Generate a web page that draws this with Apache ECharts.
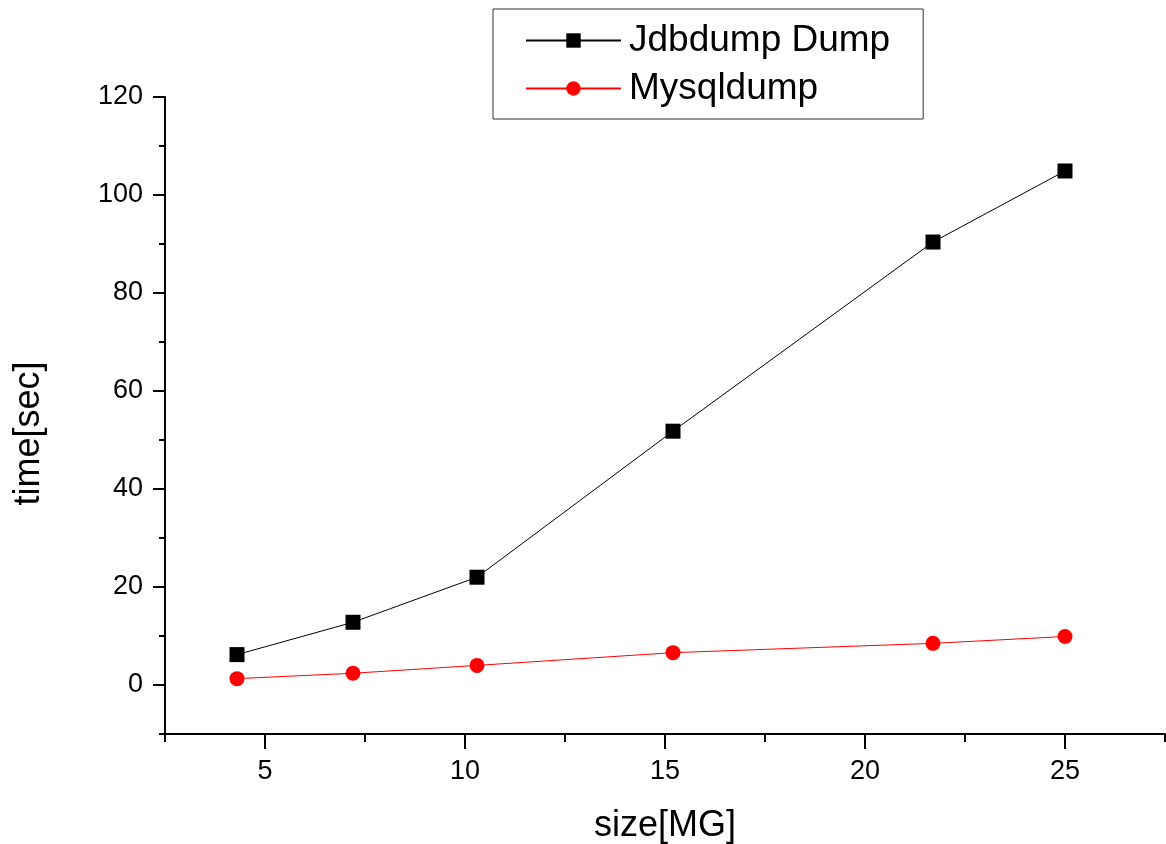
<!DOCTYPE html>
<html>
<head>
<meta charset="utf-8">
<script src="https://cdn.jsdelivr.net/npm/echarts@6/dist/echarts.min.js"></script>
<style>
  html, body { margin: 0; padding: 0; background: #fff; }
  #chart { width: 1166px; height: 844px; }
</style>
</head>
<body>
<div id="chart"></div>
<script>
var sizes = [4.3, 7.2, 10.3, 15.2, 21.7, 25.0];
var jdbdump = [6.2, 12.8, 22.0, 51.8, 90.4, 104.9];
var mysqldump = [1.3, 2.4, 4.0, 6.6, 8.5, 9.9];

var xMajor = [5, 10, 15, 20, 25];
var xMinor = [2.5, 7.5, 12.5, 17.5, 22.5, 27.5];
var yMajor = [0, 20, 40, 60, 80, 100, 120];
var yMinor = [-10, 10, 30, 50, 70, 90, 110];

function pairs(xs, ys) {
    return xs.map(function (x, i) { return [x, ys[i]]; });
}

var font = '"Liberation Sans", Arial, sans-serif';

var chart = echarts.init(document.getElementById('chart'));
var option = {
    backgroundColor: '#fff',
    animation: false,
    textStyle: { fontFamily: font, color: '#000' },
    grid: { left: 165, right: 1, top: 97, bottom: 110, containLabel: false, outerBoundsMode: 'none' },
    legend: {
        orient: 'vertical',
        left: 493,
        top: 9,
        padding: [13, 33, 12, 32],
        itemGap: 11,
        itemWidth: 95,
        itemHeight: 18,
        borderColor: '#333',
        borderWidth: 1,
        textStyle: { fontSize: 37, fontFamily: font, color: '#000', padding: [0, 0, 0, 3] },
        data: ['Jdbdump Dump', 'Mysqldump']
    },
    xAxis: [
        {
            type: 'value',
            position: 'bottom',
            min: 2.5,
            max: 27.5,
            interval: 2.5,
            name: 'size[MG]',
            nameLocation: 'middle',
            nameGap: 74,
            nameTextStyle: { fontSize: 36, fontFamily: font, color: '#000' },
            axisLine: { show: true, onZero: false, lineStyle: { color: '#000', width: 2 } },
            axisTick: { show: true, inside: false, length: 15, customValues: xMajor, lineStyle: { color: '#000', width: 2 } },
            axisLabel: { fontSize: 27, fontFamily: font, color: '#000', margin: 24, customValues: xMajor },
            splitLine: { show: false }
        },
        {
            type: 'value',
            position: 'bottom',
            min: 2.5,
            max: 27.5,
            interval: 2.5,
            axisLine: { show: false, onZero: false },
            axisTick: { show: true, inside: false, length: 8, customValues: xMinor, lineStyle: { color: '#000', width: 2 } },
            axisLabel: { show: false },
            splitLine: { show: false }
        }
    ],
    yAxis: [
        {
            type: 'value',
            position: 'left',
            min: -10,
            max: 120,
            interval: 10,
            name: 'time[sec]',
            nameLocation: 'middle',
            nameGap: 118,
            nameTextStyle: { fontSize: 36, fontFamily: font, color: '#000', padding: [0, 36, 0, 0] },
            axisLine: { show: true, onZero: false, lineStyle: { color: '#000', width: 2 } },
            axisTick: { show: true, inside: false, length: 12, customValues: yMajor, lineStyle: { color: '#000', width: 2 } },
            axisLabel: { fontSize: 27, fontFamily: font, color: '#000', margin: 22, customValues: yMajor },
            splitLine: { show: false }
        },
        {
            type: 'value',
            position: 'left',
            min: -10,
            max: 120,
            interval: 10,
            axisLine: { show: false, onZero: false },
            axisTick: { show: true, inside: false, length: 6, customValues: yMinor, lineStyle: { color: '#000', width: 2 } },
            axisLabel: { show: false },
            splitLine: { show: false }
        }
    ],
    series: [
        {
            name: 'Jdbdump Dump',
            type: 'line',
            data: pairs(sizes, jdbdump),
            symbol: 'rect',
            symbolSize: 15,
            showAllSymbol: true,
            itemStyle: { color: '#000' },
            lineStyle: { color: '#000', width: 1 }
        },
        {
            name: 'Mysqldump',
            type: 'line',
            data: pairs(sizes, mysqldump),
            symbol: 'circle',
            symbolSize: 15,
            showAllSymbol: true,
            itemStyle: { color: '#ff0000' },
            lineStyle: { color: '#ff0000', width: 1 }
        }
    ]
};
chart.setOption(option);

window.onresize = chart.resize;
</script>
</body>
</html>
